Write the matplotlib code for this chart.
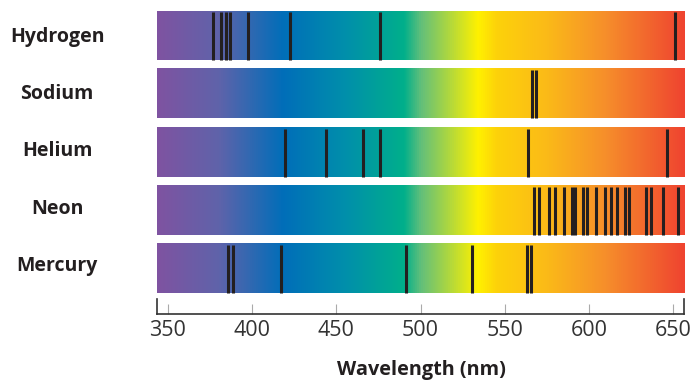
import numpy as np
import matplotlib.pyplot as plt
from matplotlib.colors import LinearSegmentedColormap

# element names, top to bottom
elements = ["Hydrogen", "Sodium", "Helium", "Neon", "Mercury"]

# emission line positions (nm)
hydrogen = [377.0, 381.7, 384.7, 387.1, 397.8, 422.8, 475.8, 650.8]
sodium = [566.3, 568.7]
helium = [419.8, 444.2, 465.7, 475.8, 563.9, 646.6]
neon = [567.4, 570.4, 576.4, 579.9, 585.3, 590.2, 591.8, 596.6, 599.0, 604.3,
        609.7, 613.3, 616.8, 621.6, 624.0, 634.1, 637.1, 644.2, 652.6]
mercury = [385.9, 388.9, 417.4, 491.3, 530.5, 563.2, 565.3]
lines = [hydrogen, sodium, helium, neon, mercury]

ticks = [350, 400, 450, 500, 550, 600, 650]
wl_min, wl_max = 343.6, 656.4

# spectrum colours at given wavelengths
grad_nm = [343.6, 380, 418, 455, 490, 500, 534, 545, 575, 610, 656.4]
grad_col = ["#7F53A1", "#5F63AA", "#006EB9", "#008FAB", "#00AF8B", "#62BF7B",
            "#FFF100", "#FDD20A", "#FBBA18", "#F68E2B", "#EF4430"]

pos = [(v - wl_min) / (wl_max - wl_min) for v in grad_nm]
cmap = LinearSegmentedColormap.from_list("spec", list(zip(pos, grad_col)))

fig = plt.figure(figsize=(6.93, 3.81), dpi=100)
W, H = 693, 381
ax = fig.add_axes([157 / W, (H - 314) / H, (684 - 157) / W, (314 - 11) / H])

half = 0.421
grad = np.linspace(0, 1, 512).reshape(1, -1)
for i, (name, wl) in enumerate(zip(elements, lines)):
    ax.imshow(grad, cmap=cmap, aspect="auto", interpolation="bilinear",
              extent=[wl_min, wl_max, i + half, i - half])
    ax.vlines(wl, i - half + 0.02, i + half, colors="#231F20", lw=2.2)
    fig.text(57 / W, 1 - (37 + i * 57.2) / H, name, ha="center", va="center",
             fontsize=14, fontweight="bold", family="Open Sans", color="#231F20")

ax.set_xlim(wl_min, wl_max)
ax.set_ylim(4 + half + 21 / 58.2, -half)

for s in ["top", "left", "right"]:
    ax.spines[s].set_visible(False)
ax.spines["bottom"].set_color("#333333")
ax.spines["bottom"].set_linewidth(1.2)
ax.set_yticks([])
ax.set_xticks(ticks)
ax.tick_params(axis="x", direction="in", length=7, width=0.8, color="#AAAAAA",
               labelsize=15.5, labelcolor="#333333", pad=4)
for lab in ax.get_xticklabels():
    lab.set_family("Open Sans")

# end brackets
for x in [wl_min, wl_max]:
    ax.axvline(x, ymin=0, ymax=15 / 303, color="#333333", lw=1.2, clip_on=False)

fig.text(421 / W, 1 - 370 / H, "Wavelength (nm)", ha="center", va="center",
         fontsize=14.3, fontweight="bold", family="Open Sans", color="#231F20")

fig.savefig("out.png", dpi=100)
